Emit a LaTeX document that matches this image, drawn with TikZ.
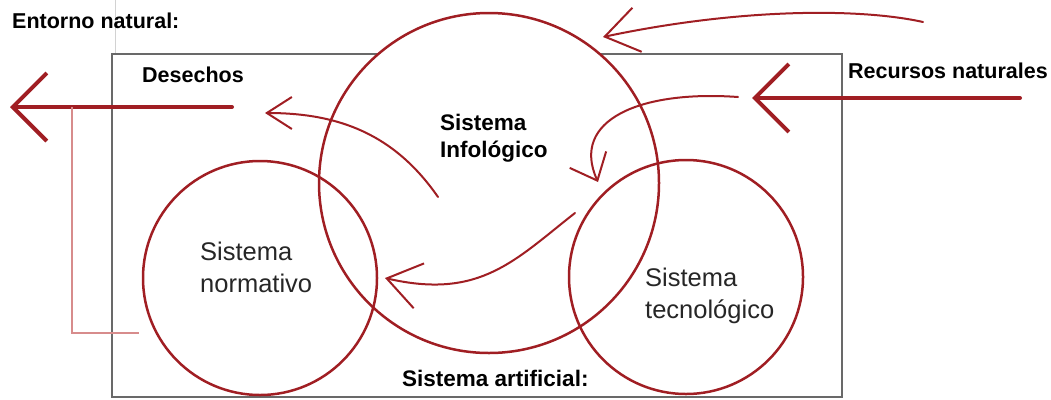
\documentclass[tikz,border=0pt]{standalone}
\usepackage{fontspec}
\setmainfont{Liberation Sans}
\usetikzlibrary{arrows.meta}
\definecolor{dred}{RGB}{160,30,35}
\definecolor{pinkl}{RGB}{215,140,140}
\definecolor{boxg}{RGB}{105,105,105}
\begin{document}
\begin{tikzpicture}[x=1pt,y=-1pt,
  sys/.style={circle,draw=dred,line width=2.5pt,minimum size=#1,inner sep=0pt},
  bigarrow/.style={draw=dred,line width=4pt,line cap=round,-{Straight Barb[length=34pt,width=68pt]}},
  thinarrow/.style 2 args={draw=dred,line width=2pt,line cap=round,-{Straight Barb[length=#1,width=#2]}},
  lblb/.style={font=\fontsize{21.5}{24}\selectfont\bfseries,inner sep=0pt,anchor=base west},
  lblm/.style={font=\fontsize{22.5}{26}\selectfont\bfseries,inner sep=0pt,anchor=base west},
  lblr/.style={font=\fontsize{25.5}{30}\selectfont,inner sep=0pt,anchor=base west,text=black!85}]
\useasboundingbox (0,0) rectangle (1051,399);
% faint guide line
\draw[gray!35,line width=0.8pt] (115,0) -- (115,54);
% frame of the artificial system
\draw[boxg,line width=2pt] (112,54) rectangle (842,397);
% circles
\node[sys=340pt,fill=white] (inf) at (489,183) {};
\node[sys=234pt] (norm) at (260,278) {};
\node[sys=234pt] (tec) at (686,277) {};
% labels
\node[lblb] (entorno) at (12,28) {Entorno natural:};
\node[lblb] (desechos) at (142,82) {Desechos};
\node[lblb] (recursos) at (848,78) {Recursos naturales};
\node[lblm] (inf1) at (440,130) {Sistema};
\node[lblm] (inf2) at (440,157) {Infológico};
\node[lblm] (artif) at (402,386) {Sistema artificial:};
\node[lblr] (norm1) at (200,260) {Sistema};
\node[lblr] (norm2) at (200,292) {normativo};
\node[lblr] (tec1) at (645,286) {Sistema};
\node[lblr] (tec2) at (645,318) {tecnológico};
% connector coordinates
\coordinate (dA) at (232,107);
\coordinate (dB) at (10,107);
\coordinate (rA) at (1020,98);
\coordinate (rB) at (752,98);
\coordinate (pk1) at (72,107);
\coordinate (pk2) at (139,333);
\coordinate (iA) at (438,197);
\coordinate (iB) at (265,113);
\coordinate (tA) at (923,22);
\coordinate (tB) at (603,37);
\coordinate (cA) at (738,97);
\coordinate (cB) at (598,182);
\coordinate (bA) at (575,213);
\coordinate (bB) at (385,278);
% thick arrows
\draw[bigarrow] (dA) -- (dB);
\draw[bigarrow] (rA) -- (rB);
% pink bracket
\draw[pinkl,line width=1.5pt] (pk1) |- (pk2);
% thin curved arrows
\draw[thinarrow={25pt}{32pt}] (iA) .. controls (395,135) and (340,113) .. (iB);
\draw[thinarrow={33pt}{45pt}] (tA) .. controls (860,8) and (740,8) .. (tB);
\draw[thinarrow={23pt}{40pt}] (cA) .. controls (640,90) and (570,120) .. (cB);
\draw[thinarrow={33pt}{46pt}] (bA) .. controls (515,260) and (480,300) .. (bB);
\end{tikzpicture}
\end{document}
